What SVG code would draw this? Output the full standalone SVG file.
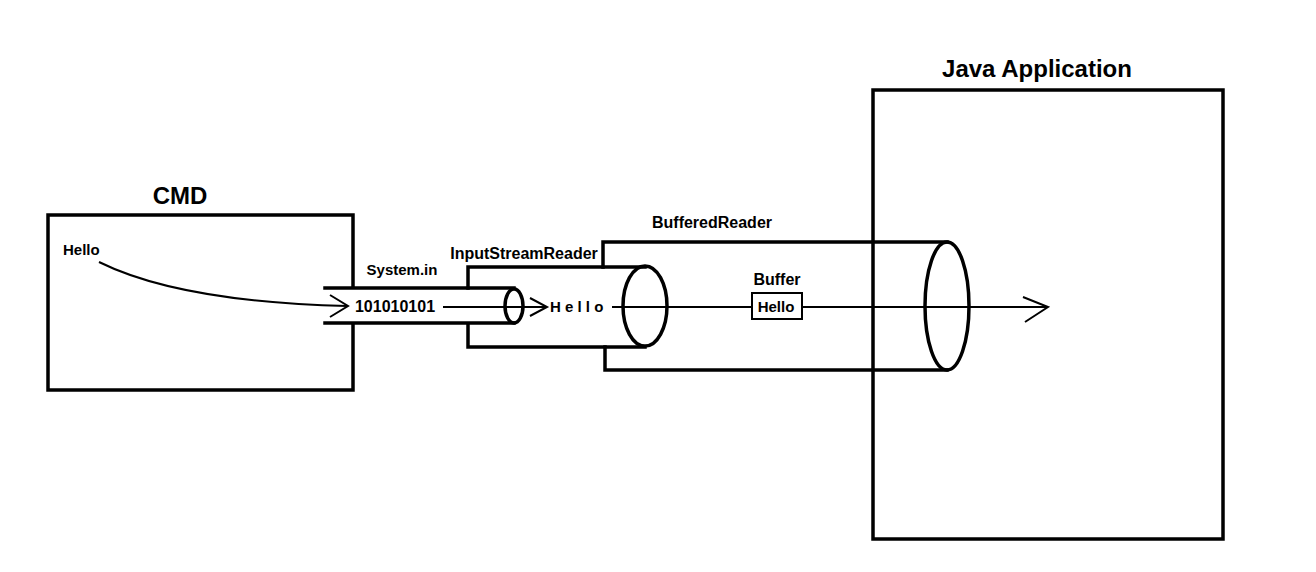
<svg xmlns="http://www.w3.org/2000/svg" width="1316" height="572" viewBox="0 0 1316 572">
<style>
.box{fill:none;stroke:#000;stroke-width:3.5}
.pipe{fill:none;stroke:#000;stroke-width:3.5;stroke-linecap:square}
.thin{fill:none;stroke:#000;stroke-width:2}
.t{font-family:"Liberation Sans",Arial,sans-serif;font-weight:bold;fill:#000}
.big{font-size:24px}
.sm{font-size:15px}
.md{font-size:16px}
</style>
<rect width="1316" height="572" fill="#fff"/>
<g id="cmd">
  <path class="box" d="M353,288 V215 H48 V390 H353 V323"/>
  <text class="t big" x="180" y="204" text-anchor="middle">CMD</text>
  <text class="t sm" x="63" y="255">Hello</text>
</g>
<g id="java-application">
  <rect class="box" x="873" y="90" width="350" height="449"/>
  <text class="t big" x="1037" y="77" text-anchor="middle">Java Application</text>
</g>
<g id="system-in">
  <path class="pipe" d="M325,288 H514 M325,323 H514"/>
  <ellipse class="pipe" cx="514" cy="306" rx="9" ry="17"/>
  <text class="t sm" x="402" y="275" text-anchor="middle">System.in</text>
  <text class="t md" x="395" y="312" text-anchor="middle">101010101</text>
</g>
<g id="input-stream-reader">
  <path class="pipe" d="M468,288 V267 H645 M468,325 V347 H645"/>
  <ellipse class="pipe" cx="645" cy="306" rx="22" ry="40"/>
  <text class="t md" x="524" y="259" text-anchor="middle">InputStreamReader</text>
  <text class="t sm" x="550" y="312">H e l l o</text>
</g>
<g id="buffered-reader">
  <path class="pipe" d="M603,267 V242 H947 M605,347 V370 H947"/>
  <ellipse class="pipe" cx="947" cy="306" rx="22" ry="64"/>
  <text class="t md" x="712" y="228" text-anchor="middle">BufferedReader</text>
</g>
<g id="buffer">
  <rect x="752" y="293" width="50" height="26" fill="#fff" stroke="#000" stroke-width="2"/>
  <text class="t md" x="777" y="285" text-anchor="middle">Buffer</text>
  <text class="t sm" x="776" y="312" text-anchor="middle">Hello</text>
</g>
<g id="connectors">
  <path class="thin" d="M99,262 Q180,302 347,306"/>
  <path class="thin" d="M330,295 L348,306 L330,317"/>
  <path class="thin" d="M443,307 H547"/>
  <path class="thin" d="M530,298 L547,307 L530,316"/>
  <path class="thin" d="M612,307 H752 M802,307 H1048"/>
  <path class="thin" d="M1023,297 L1048,307 L1025,322"/>
</g>
</svg>
